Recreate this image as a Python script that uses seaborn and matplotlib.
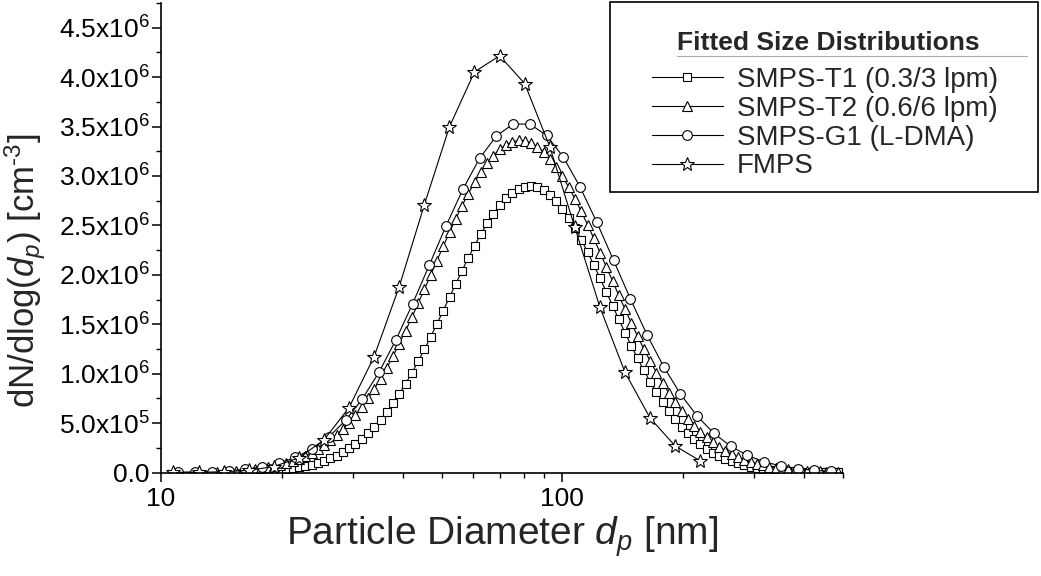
import numpy as np
import matplotlib
matplotlib.use("Agg")
import matplotlib.pyplot as plt
import seaborn as sns
from matplotlib.ticker import FuncFormatter, MultipleLocator, LogLocator, FixedLocator, NullFormatter
from matplotlib.patches import Rectangle
from matplotlib.lines import Line2D

sns.set_style("ticks")
plt.rcParams["font.family"] = ["Liberation Sans", "DejaVu Sans"]
plt.rcParams["mathtext.fontset"] = "custom"
plt.rcParams["mathtext.rm"] = "Liberation Sans"
plt.rcParams["mathtext.it"] = "Liberation Sans:italic"
plt.rcParams["mathtext.bf"] = "Liberation Sans:bold"
plt.rcParams["mathtext.default"] = "regular"

# --- data (values in 10^6 cm^-3) ---
# SMPS channel mid-point diameters [nm]
smps_dp = [
    13.82, 14.33, 14.86, 15.40, 15.96, 16.55, 17.15,
    17.78, 18.43, 19.11, 19.81, 20.54, 21.29, 22.07, 22.88,
    23.71, 24.58, 25.48, 26.42, 27.38, 28.39, 29.43, 30.51,
    31.62, 32.78, 33.98, 35.23, 36.52, 37.86, 39.24, 40.68,
    42.17, 43.71, 45.32, 46.98, 48.70, 50.48, 52.33, 54.25,
    56.23, 58.29, 60.43, 62.64, 64.94, 67.32, 69.78, 72.34,
    74.99, 77.74, 80.58, 83.54, 86.60, 89.77, 93.06, 96.47,
    100.0, 103.7, 107.5, 111.4, 115.5, 119.7, 124.1, 128.6,
    133.4, 138.2, 143.3, 148.5, 154.0, 159.6, 165.5, 171.5,
    177.8, 184.3, 191.1, 198.1, 205.4, 212.9, 220.7, 228.8,
    237.1, 245.8, 254.8, 264.2, 273.9, 283.9, 294.3, 305.1,
    316.2, 327.8, 339.8, 352.3, 365.2, 378.6, 392.4, 406.8,
    421.7, 437.2, 453.2, 469.8, 487.0,
]

# SMPS-T1 (0.3/3 lpm), starts at the 9th channel
t1_vals = [
    0.0161, 0.0205, 0.0261, 0.0329, 0.0413, 0.0516, 0.0640,
    0.0789, 0.0967, 0.1179, 0.1428, 0.1719, 0.2058, 0.2450, 0.2899,
    0.3410, 0.3985, 0.4634, 0.5353, 0.6148, 0.7021, 0.7969, 0.8990,
    1.0086, 1.1246, 1.2467, 1.3737, 1.5048, 1.6388, 1.7739, 1.9088,
    2.0422, 2.1715, 2.2959, 2.4125, 2.5204, 2.6175, 2.7025, 2.7736,
    2.8295, 2.8698, 2.8933, 2.9000, 2.8886, 2.8593, 2.8125, 2.7492,
    2.6705, 2.5775, 2.4725, 2.3569, 2.2325, 2.1010, 1.9652, 1.8267,
    1.6873, 1.5489, 1.4127, 1.2804, 1.1534, 1.0323, 0.9181, 0.8115,
    0.7128, 0.6221, 0.5395, 0.4648, 0.3982, 0.3389, 0.2867, 0.2409,
    0.2013, 0.1671, 0.1378, 0.1129, 0.0920, 0.0744, 0.0599, 0.0479,
    0.0380, 0.0300, 0.0235, 0.0183, 0.0142, 0.0109, 0.0083, 0.0063,
    0.0048, 0.0036, 0.0027, 0.0020, 0.0015,
]

# SMPS-T2 (0.6/6 lpm)
t2_vals = [
    0.0089, 0.0113, 0.0144, 0.0182, 0.0228, 0.0286, 0.0355,
    0.0439, 0.0540, 0.0661, 0.0806, 0.0977, 0.1178, 0.1413, 0.1687,
    0.2003, 0.2367, 0.2783, 0.3255, 0.3786, 0.4388, 0.5053, 0.5790,
    0.6602, 0.7489, 0.8457, 0.9495, 1.0607, 1.1794, 1.3044, 1.4351,
    1.5711, 1.7112, 1.8544, 1.9995, 2.1447, 2.2888, 2.4303, 2.5674,
    2.6984, 2.8217, 2.9360, 3.0391, 3.1298, 3.2068, 3.2693, 3.3160,
    3.3460, 3.3593, 3.3556, 3.3348, 3.2973, 3.2437, 3.1748, 3.0916,
    2.9951, 2.8868, 2.7686, 2.6416, 2.5075, 2.3684, 2.2257, 2.0809,
    1.9354, 1.7912, 1.6491, 1.5107, 1.3769, 1.2486, 1.1263, 1.0110,
    0.9028, 0.8020, 0.7093, 0.6236, 0.5457, 0.4751, 0.4116, 0.3545,
    0.3041, 0.2594, 0.2202, 0.1859, 0.1561, 0.1305, 0.1086, 0.0898,
    0.0739, 0.0605, 0.0493, 0.0400, 0.0323, 0.0259, 0.0207, 0.0164,
    0.0130, 0.0102, 0.0080, 0.0062, 0.0048,
]

# SMPS-G1 (L-DMA)
g1_dp = [
    11.04, 12.15, 13.38, 14.73, 16.21, 17.84, 19.64, 21.62, 23.80, 26.20,
    28.84, 31.74, 34.94, 38.46, 42.34, 46.60, 51.30, 56.47, 62.16, 68.43,
    75.34, 82.93, 91.29, 100.5, 110.6, 121.8, 134.1, 147.6, 162.4, 178.8,
    196.8, 216.7, 238.5, 262.5, 289.0, 318.1, 350.2, 385.5, 424.3, 467.1,
]
g1_vals = [
    0.0025, 0.0050, 0.0096, 0.0179, 0.0322, 0.0559, 0.0940, 0.1523, 0.2386, 0.3610,
    0.5278, 0.7450, 1.0170, 1.3400, 1.7070, 2.0990, 2.4950, 2.8640, 3.1770, 3.4050,
    3.5250, 3.5250, 3.4110, 3.1920, 2.8900, 2.5320, 2.1460, 1.7590, 1.3940, 1.0700,
    0.7940, 0.5700, 0.3958, 0.2660, 0.1730, 0.1087, 0.0661, 0.0389, 0.0221, 0.0122,
]

# FMPS
fmps_dp = [
    10.74, 12.40, 14.32, 16.54, 19.10, 22.06, 25.47, 29.41, 33.96, 39.22, 45.29,
    52.30, 60.39, 69.74, 80.54, 93.00, 107.4, 124.0, 143.2, 165.4, 191.0, 220.5,
]
fmps_vals = [
    0.0006, 0.0021, 0.0071, 0.0219, 0.0601, 0.1486, 0.3300, 0.6570, 1.1730, 1.8810, 2.7080,
    3.4970, 4.0530, 4.2160, 3.9350, 3.2970, 2.4790, 1.6720, 1.0130, 0.5500, 0.2680, 0.1175,
]

labels = ["SMPS-T1 (0.3/3 lpm)", "SMPS-T2 (0.6/6 lpm)", "SMPS-G1 (L-DMA)", "FMPS"]

W, H = 1041, 576
fig = plt.figure(figsize=(W / 100, H / 100), dpi=100)
ax = fig.add_axes([161 / W, 1 - 472.5 / H, (843 - 161) / W, (472.5 - 3) / H])

style = dict(color="black", linewidth=0.8, markerfacecolor="white",
             markeredgecolor="black", markeredgewidth=0.8, errorbar=None, ax=ax)

sns.lineplot(x=smps_dp[8:], y=np.array(t1_vals) * 1e6, marker="s", markersize=6,
             label=labels[0], **style)
sns.lineplot(x=smps_dp, y=np.array(t2_vals) * 1e6, marker="^", markersize=7.5,
             label=labels[1], **style)
sns.lineplot(x=g1_dp, y=np.array(g1_vals) * 1e6, marker="o", markersize=7,
             label=labels[2], **style)
sns.lineplot(x=fmps_dp, y=np.array(fmps_vals) * 1e6, marker="*", markersize=10,
             label=labels[3], **style)

# axes
ax.set_xscale("log")
ax.set_xlim(10, 500)
ax.set_ylim(0, 4.75e6)
sns.despine(ax=ax)
for s in ("left", "bottom"):
    ax.spines[s].set_linewidth(1.2)
    ax.spines[s].set_color("black")

ax.xaxis.set_major_locator(FixedLocator([10, 100]))
ax.xaxis.set_major_formatter(FuncFormatter(lambda v, p: f"{v:g}"))
ax.xaxis.set_minor_locator(LogLocator(base=10, subs=np.arange(2, 10)))
ax.xaxis.set_minor_formatter(NullFormatter())
ax.yaxis.set_major_locator(MultipleLocator(5e5))
ax.yaxis.set_minor_locator(MultipleLocator(2.5e5))


def sci(v, p):
    if v <= 0:
        return "0.0" if abs(v) < 1 else ""
    e = int(np.floor(np.log10(v) + 1e-9))
    return f"{v / 10**e:.1f}x10$^{{{e}}}$"


ax.yaxis.set_major_formatter(FuncFormatter(sci))
ax.tick_params(which="major", direction="out", length=6.5, width=1.1, labelsize=19,
               color="black", labelcolor="black")
ax.tick_params(which="minor", direction="out", length=3.6, width=1.0, color="black")
ax.tick_params(axis="y", which="major", pad=1.5)
ax.tick_params(axis="x", which="major", pad=4)

ax.set_xlabel(r"Particle Diameter $\mathit{d}_\mathit{p}$ [nm]", fontsize=28)
ax.set_ylabel(r"dN/dlog($\mathit{d}_\mathit{p}$) [cm$^{\text{-3}}$]", fontsize=25)
ax.xaxis.set_label_coords(0.5, -0.088)
ax.yaxis.set_label_coords(-0.166, 0.43)

# legend
handles, _ = ax.get_legend_handles_labels()
leg = ax.legend(handles, labels, loc="upper left",
                bbox_to_anchor=(652 / W, 1 - 67 / H),
                bbox_transform=fig.transFigure, frameon=False, borderpad=0,
                borderaxespad=0, handlelength=2.55, handletextpad=0.5,
                labelspacing=0.1, fontsize=20, numpoints=1)
fig.text(828 / W, 1 - 43 / H, "Fitted Size Distributions", ha="center", va="center",
         fontsize=19, fontweight="bold")
fig.add_artist(Rectangle((610 / W, 1 - 192 / H), 428 / W, 190 / H,
                         transform=fig.transFigure, fill=False,
                         edgecolor="black", linewidth=1.2))
fig.add_artist(Line2D([677 / W, 1027 / W], [1 - 56 / H, 1 - 56 / H],
                      transform=fig.transFigure, color="#aaaaaa", linewidth=0.8))

fig.savefig("out.png", dpi=100)
